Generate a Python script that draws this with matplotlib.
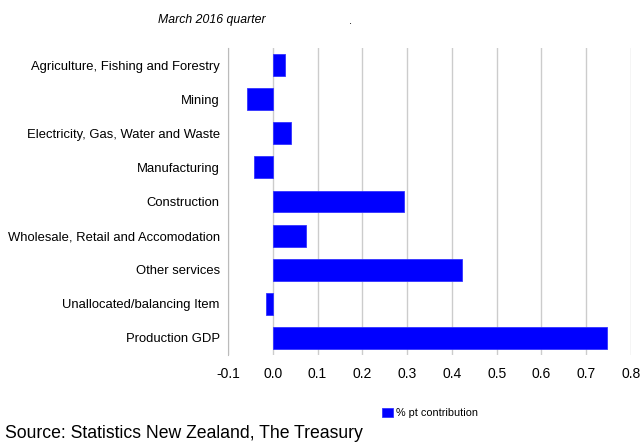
import numpy as np
import matplotlib.pyplot as plt

plt.rcParams['font.family'] = ['Liberation Sans', 'DejaVu Sans']

# data
categories = ["Agriculture, Fishing and Forestry", "Mining",
              "Electricity, Gas, Water and Waste", "Manufacturing",
              "Construction", "Wholesale, Retail and Accomodation",
              "Other services", "Unallocated/balancing Item", "Production GDP"]
contribution = [0.028, -0.057, 0.040, -0.042, 0.292, 0.075, 0.422, -0.016, 0.747]
xticks = [-0.1, 0.0, 0.1, 0.2, 0.3, 0.4, 0.5, 0.6, 0.7, 0.8]

fig = plt.figure(figsize=(6.41, 4.46), dpi=100)
ax = fig.add_axes([228 / 641, 1 - 355 / 446, (631 - 228) / 641, (355 - 48) / 446])

y = np.arange(len(categories))
ax.barh(y, contribution, height=0.64, color='#0000ff', edgecolor='#3333ff',
        linewidth=0.6, label='% pt contribution', zorder=3)

ax.set_ylim(len(categories) - 0.5, -0.5)
ax.set_xlim(-0.1, 0.8)
ax.set_yticks(y)
ax.set_yticklabels(categories, fontsize=9.4)
ax.set_xticks(xticks)
ax.set_xticklabels(["%.1f" % t for t in xticks], fontsize=10)
ax.tick_params(axis='y', length=0, pad=6)
ax.tick_params(axis='x', length=0, pad=9)
ax.grid(axis='x', color='#cccccc', linewidth=1, zorder=0)
for s in ['top', 'right', 'bottom']:
    ax.spines[s].set_visible(False)
ax.spines['left'].set_color('#bbbbbb')

fig.text(212 / 641, 1 - 20 / 446, "March 2016 quarter", fontsize=8.8,
         style='italic', ha='center', va='center')
fig.text(350 / 641, 1 - 21 / 446, ".", fontsize=8, ha='center', va='center')

fig.legend(loc='center', bbox_to_anchor=(430 / 641, 1 - 413 / 446), frameon=False,
           fontsize=7.8, handlelength=1.0, handleheight=1.0, handletextpad=0.3)

fig.text(5 / 641, 1 - 434 / 446, "Source: Statistics New Zealand, The Treasury",
         fontsize=12.7, ha='left', va='center')

fig.savefig("out.png", dpi=100)
